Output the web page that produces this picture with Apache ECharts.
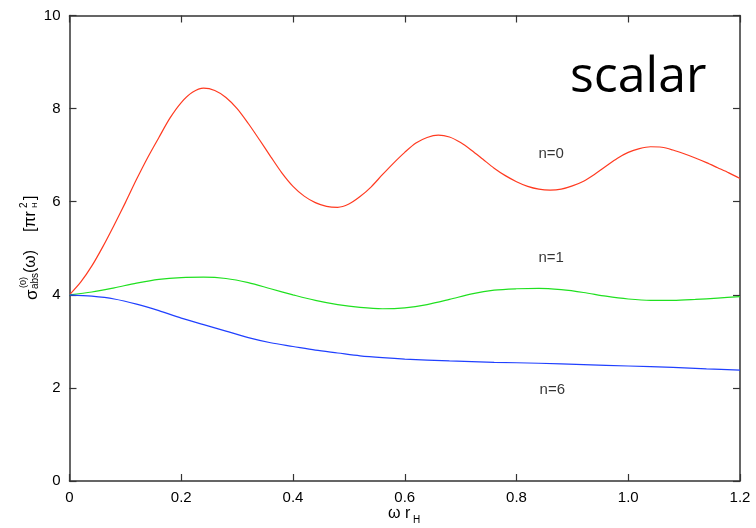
<!DOCTYPE html>
<html>
<head>
<meta charset="utf-8">
<script src="https://cdn.jsdelivr.net/npm/echarts@6/dist/echarts.min.js"></script>
<style>
  html, body { margin: 0; padding: 0; background: #fff; }
  #chart { width: 756px; height: 528px; }
</style>
</head>
<body>
<div id="chart"></div>
<script>
// values, [ω r_H, σ]
const n0 = [[0,4.00],[0.02,4.27],[0.04,4.62],[0.06,5.04],[0.08,5.50],[0.10,5.98],[0.12,6.48],[0.14,6.95],[0.16,7.38],[0.18,7.80],[0.20,8.13],[0.22,8.35],[0.24,8.44],[0.26,8.39],[0.28,8.24],[0.30,8.00],[0.32,7.68],[0.34,7.33],[0.36,6.97],[0.38,6.62],[0.40,6.33],[0.42,6.12],[0.44,5.98],[0.46,5.90],[0.48,5.88],[0.50,5.95],[0.52,6.11],[0.54,6.32],[0.56,6.58],[0.58,6.83],[0.60,7.06],[0.62,7.26],[0.64,7.38],[0.66,7.43],[0.68,7.39],[0.70,7.27],[0.72,7.10],[0.74,6.91],[0.76,6.72],[0.78,6.56],[0.80,6.43],[0.82,6.33],[0.84,6.27],[0.86,6.25],[0.88,6.27],[0.90,6.34],[0.92,6.44],[0.94,6.59],[0.96,6.76],[0.98,6.93],[1.00,7.06],[1.02,7.14],[1.04,7.18],[1.06,7.17],[1.08,7.11],[1.10,7.03],[1.12,6.94],[1.14,6.84],[1.16,6.73],[1.18,6.62],[1.20,6.50]];
const n1 = [[0,4.00],[0.04,4.06],[0.08,4.15],[0.12,4.25],[0.16,4.33],[0.20,4.37],[0.24,4.38],[0.28,4.35],[0.32,4.26],[0.36,4.13],[0.40,4.00],[0.44,3.88],[0.48,3.79],[0.52,3.73],[0.56,3.70],[0.60,3.72],[0.64,3.79],[0.68,3.90],[0.72,4.02],[0.76,4.10],[0.80,4.13],[0.84,4.14],[0.88,4.11],[0.92,4.05],[0.96,3.97],[1.00,3.91],[1.04,3.88],[1.08,3.88],[1.12,3.90],[1.16,3.93],[1.20,3.96]];
const n6 = [[0,4.00],[0.04,3.97],[0.08,3.91],[0.12,3.80],[0.16,3.66],[0.20,3.50],[0.24,3.36],[0.28,3.22],[0.32,3.08],[0.36,2.97],[0.40,2.89],[0.44,2.81],[0.48,2.75],[0.52,2.69],[0.56,2.65],[0.60,2.62],[0.68,2.58],[0.76,2.55],[0.84,2.53],[0.92,2.50],[1.00,2.47],[1.08,2.44],[1.14,2.41],[1.20,2.38]];

const xTicks = ['0', '0.2', '0.4', '0.6', '0.8', '1.0', '1.2'];
const yTicks = ['0', '2', '4', '6', '8', '10'];

// curve labels (data units)
const labelNames = ['n=0', 'n=1', 'n=6'];
const labelPos = [[0.862, 7.02], [0.862, 4.79], [0.864, 1.95]];

const font = 'Liberation Sans, Arial, Helvetica, sans-serif';
const frame = '#333';

const chart = echarts.init(document.getElementById('chart'));

const baseX = {
  type: 'value', min: 0, max: 1.2, interval: 0.2,
  axisLine: { show: true, onZero: false, lineStyle: { color: frame, width: 1.5 } },
  axisTick: { show: true, inside: true, length: 7, lineStyle: { color: frame, width: 1.2 } },
  splitLine: { show: false }
};
const baseY = {
  type: 'value', min: 0, max: 10, interval: 2,
  axisLine: { show: true, onZero: false, lineStyle: { color: frame, width: 1.5 } },
  axisTick: { show: true, inside: true, length: 7, lineStyle: { color: frame, width: 1.2 } },
  splitLine: { show: false }
};

const line = (name, data, color) => ({
  name, type: 'line', data, smooth: 0.3, showSymbol: false, symbol: 'none',
  xAxisIndex: 0, yAxisIndex: 0,
  lineStyle: { color, width: 1.2 }, animation: false, z: 3
});

const txt = (text, x, y, size) => ({
  type: 'text', x, y, style: { text, font: size + 'px ' + font, fill: '#000' }
});

chart.setOption({
  animation: false,
  grid: { left: 69.5, right: 16, top: 15.5, bottom: 47, containLabel: false },
  xAxis: [
    Object.assign({}, baseX, {
      position: 'bottom',
      axisLabel: { color: '#000', fontFamily: font, fontSize: 15, margin: 9,
        formatter: (v, i) => xTicks[i] }
    }),
    Object.assign({}, baseX, { position: 'top', axisLabel: { show: false } })
  ],
  yAxis: [
    Object.assign({}, baseY, {
      position: 'left',
      axisLabel: { color: '#000', fontFamily: font, fontSize: 15, margin: 9,
        formatter: (v, i) => yTicks[i] }
    }),
    Object.assign({}, baseY, { position: 'right', axisLabel: { show: false } })
  ],
  series: [
    line('n=0', n0, '#ff3a20'),
    line('n=1', n1, '#20e020'),
    line('n=6', n6, '#2040ff'),
    {
      type: 'scatter', symbolSize: 0, silent: true,
      data: labelPos.map((p, i) => ({ value: p, name: labelNames[i] })),
      label: { show: true, position: 'inside', formatter: p => p.name,
        color: '#000', fontFamily: font, fontSize: 15 }
    }
  ],
  graphic: [
    { type: 'text', left: 570, top: 53,
      style: { text: 'scalar', font: '50px "Open Sans", Lato, sans-serif', fill: '#000' } },
    // x axis title: ω r_H
    { type: 'group', left: 388, top: 506, children: [
      txt('ω r', 0, 0, 16),
      txt('H', 25, 9, 10)
    ]},
    // y axis title: σ^(0)_abs(ω) [πr_H^2], rotated
    { type: 'group', x: 39, y: 300, rotation: Math.PI / 2, children: [
      txt('σ', 0, -15, 17),
      txt('(0)', 12, -20, 9),
      txt('abs', 11, -9, 10),
      txt('(ω)', 27, -16, 16),
      txt('[πr', 68, -16, 16),
      txt('2', 92, -20, 10),
      txt('H', 92, -8, 8),
      txt(']', 100, -16, 16)
    ]}
  ]
});
</script>
</body>
</html>
